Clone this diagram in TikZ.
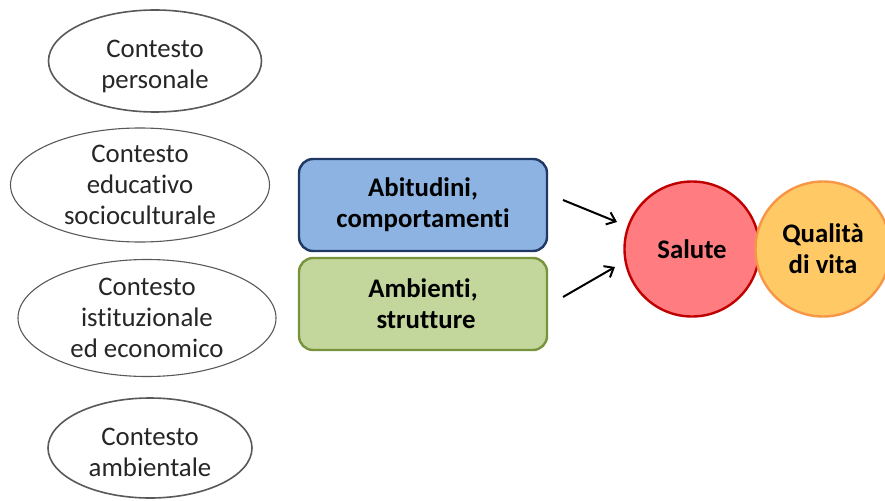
\documentclass[tikz,border=0pt]{standalone}
\usepackage{fontspec}
\setmainfont[Ligatures=NoCommon]{Carlito}
\usetikzlibrary{shapes.geometric,arrows.meta}
\definecolor{ctxline}{HTML}{595959}
\definecolor{ctxtext}{HTML}{262626}
\definecolor{bluefill}{HTML}{8DB3E2}
\definecolor{blueline}{HTML}{1F3864}
\definecolor{greenfill}{HTML}{C3D69B}
\definecolor{greenline}{HTML}{77933C}
\definecolor{redfill}{HTML}{FF7C80}
\definecolor{redline}{HTML}{C00000}
\definecolor{orangefill}{HTML}{FFC966}
\definecolor{orangeline}{HTML}{F79646}
\tikzset{
  ctx/.style={ellipse, draw=ctxline, fill=white, inner sep=0pt, align=center,
    text=ctxtext, font=\fontsize{26.8}{31}\selectfont},
  factor/.style={rectangle, rounded corners=14pt, line width=2.4pt, inner sep=0pt,
    minimum width=248pt, minimum height=92pt, align=center,
    font=\bfseries\fontsize{26.8}{31}\selectfont},
  outcome/.style={circle, line width=2.4pt, inner sep=0pt, minimum size=135pt,
    align=center, font=\bfseries\fontsize{26.8}{31}\selectfont},
  link/.style={line width=2pt, -{Straight Barb[length=8pt,width=13pt,line width=2pt]}}
}
\begin{document}
\begin{tikzpicture}[x=1pt,y=-1pt]
\useasboundingbox (0,0) rectangle (885,500);

% context ellipses
\node[ctx, line width=1.6pt, minimum width=213pt, minimum height=102pt] (pers) at (155,61)
  {\rule{0pt}{29pt}Contesto\\personale};
\node[ctx, line width=1.1pt, minimum width=259pt, minimum height=114pt] (edu) at (140,185)
  {Contesto\\educativo\\socioculturale};
\node[ctx, line width=1.1pt, minimum width=258pt, minimum height=117pt] (ist) at (147,318)
  {Contesto\\istituzionale\\ed economico};
\node[ctx, line width=1.6pt, minimum width=204pt, minimum height=100pt] (amb) at (150,448)
  {\rule{0pt}{26pt}Contesto\\ambientale};

% behaviour and environment boxes
\node[factor, draw=blueline, fill=bluefill] (abit) at (423,205)
  {Abitudini,\\comportamenti};
\node[factor, draw=greenline, fill=greenfill] (ambs) at (423,304)
  {Ambienti,\\\hspace*{6pt}strutture};

% outcomes
\node[outcome, draw=redline, fill=redfill] (sal) at (692,249) {Salute};
\node[outcome, draw=orangeline, fill=orangefill] (qual) at (823,249) {Qualità\\di vita};

% arrows towards health
\coordinate (a1) at (563,200);
\coordinate (a1e) at (617,222);
\coordinate (a2) at (563,297);
\coordinate (a2e) at (615,267);
\draw[link] (a1) -- (a1e);
\draw[link] (a2) -- (a2e);
\end{tikzpicture}
\end{document}
